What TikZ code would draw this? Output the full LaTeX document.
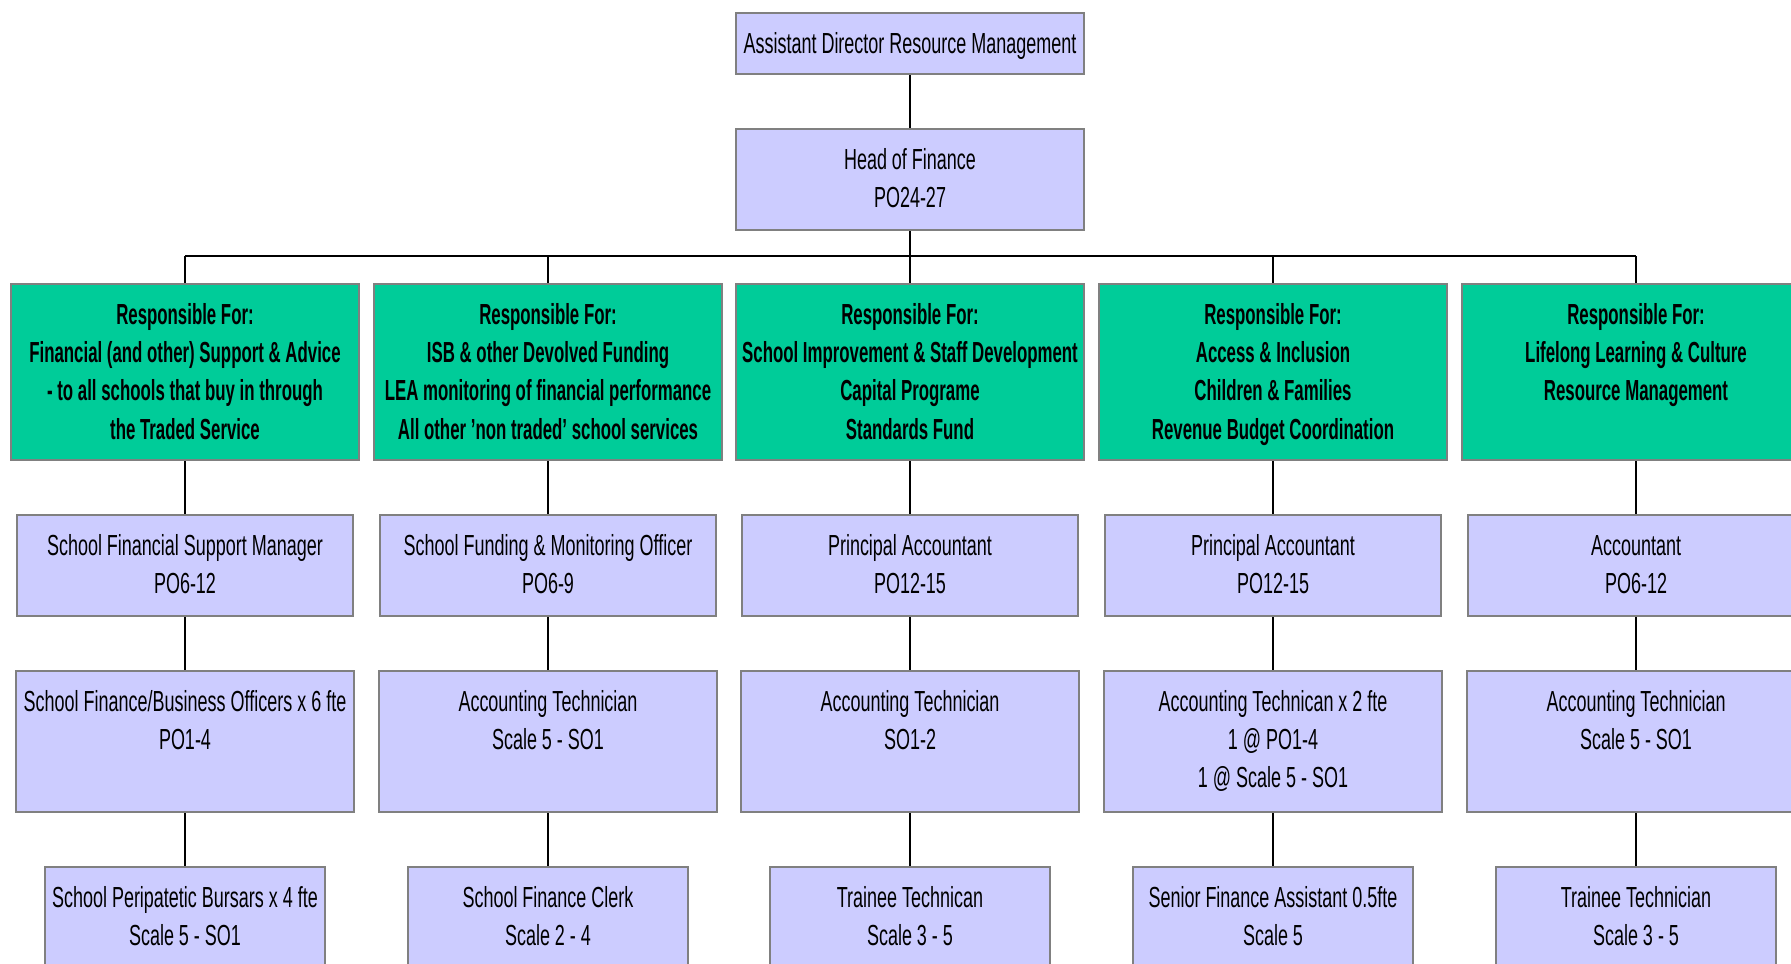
\documentclass[tikz,border=0pt]{standalone}
\usepackage{fontspec}
\setmainfont{Liberation Sans}[FakeStretch=0.62, BoldFeatures={FakeStretch=0.58}]
\usepackage{tikz}
\usetikzlibrary{positioning,calc}
\definecolor{rmlav}{HTML}{CCCCFF}
\definecolor{rmgreen}{HTML}{00CC99}
\definecolor{rmgray}{HTML}{808080}
% text cell: width, height, lines (top aligned)
\newcommand{\rmcell}[3]{%
  \begin{minipage}[c][#2][t]{#1}\centering\rule{0pt}{0.40cm}#3\end{minipage}}
\tikzset{
  rm/box/.style={
    draw=rmgray, fill=rmlav, line width=0.6pt, inner sep=0pt, anchor=north,
    font=\fontsize{8.25pt}{10.9pt}\selectfont
  },
  rm/resp/.style={
    draw=rmgray, fill=rmgreen, line width=0.6pt, inner sep=0pt, anchor=north,
    font=\fontsize{8.25pt}{10.9pt}\selectfont\bfseries
  },
  rm/link/.style={draw=black, line width=0.5pt}
}
\begin{document}
\begin{tikzpicture}[x=0.01cm, y=-0.01cm]
  \useasboundingbox (0,0) rectangle (1791,964);
  \clip (0,0) rectangle (1791,964);

  % --- top of the tree ---
  \node[rm/box] (adrm) at (910,12) {\rmcell{3.47cm}{0.61cm}{Assistant Director Resource Management}};
  \node[rm/box] (hof) at (910,128) {\rmcell{3.47cm}{1.01cm}{Head of Finance\\PO24-27}};
  \coordinate (bus) at (910,256);

  % --- responsibilities ---
  \node[rm/resp] (resp1) at (185,283) {\rmcell{3.48cm}{1.76cm}{Responsible For:\\Financial (and other) Support \& Advice\\- to all schools that buy in through\\the Traded Service}};
  \node[rm/resp] (resp2) at (548,283) {\rmcell{3.48cm}{1.76cm}{Responsible For:\\ISB \& other Devolved Funding\\LEA monitoring of financial performance\\All other 'non traded' school services}};
  \node[rm/resp] (resp3) at (910,283) {\rmcell{3.48cm}{1.76cm}{Responsible For:\\School Improvement \& Staff Development\\Capital Programe\\Standards Fund}};
  \node[rm/resp] (resp4) at (1273,283) {\rmcell{3.48cm}{1.76cm}{Responsible For:\\Access \& Inclusion\\Children \& Families\\Revenue Budget Coordination}};
  \node[rm/resp] (resp5) at (1636,283) {\rmcell{3.48cm}{1.76cm}{Responsible For:\\Lifelong Learning \& Culture\\Resource Management}};

  % --- first posts ---
  \node[rm/box] (lead1) at (185,514) {\rmcell{3.36cm}{1.01cm}{School Financial Support Manager\\PO6-12}};
  \node[rm/box] (lead2) at (548,514) {\rmcell{3.36cm}{1.01cm}{School Funding \& Monitoring Officer\\PO6-9}};
  \node[rm/box] (lead3) at (910,514) {\rmcell{3.36cm}{1.01cm}{Principal Accountant\\PO12-15}};
  \node[rm/box] (lead4) at (1273,514) {\rmcell{3.36cm}{1.01cm}{Principal Accountant\\PO12-15}};
  \node[rm/box] (lead5) at (1636,514) {\rmcell{3.36cm}{1.01cm}{Accountant\\PO6-12}};

  % --- technicians ---
  \node[rm/box] (tech1) at (185,670) {\rmcell{3.37cm}{1.41cm}{School Finance/Business Officers x 6 fte\\PO1-4}};
  \node[rm/box] (tech2) at (548,670) {\rmcell{3.37cm}{1.41cm}{Accounting Technician\\Scale 5 - SO1}};
  \node[rm/box] (tech3) at (910,670) {\rmcell{3.37cm}{1.41cm}{Accounting Technician\\SO1-2}};
  \node[rm/box] (tech4) at (1273,670) {\rmcell{3.37cm}{1.41cm}{Accounting Technican x 2 fte\\1 @ PO1-4\\1 @ Scale 5 - SO1}};
  \node[rm/box] (tech5) at (1636,670) {\rmcell{3.37cm}{1.41cm}{Accounting Technician\\Scale 5 - SO1}};

  % --- bottom row ---
  \node[rm/box] (base1) at (185,866) {\rmcell{2.79cm}{1.01cm}{School Peripatetic Bursars x 4 fte\\Scale 5 - SO1}};
  \node[rm/box] (base2) at (548,866) {\rmcell{2.79cm}{1.01cm}{School Finance Clerk\\Scale 2 - 4}};
  \node[rm/box] (base3) at (910,866) {\rmcell{2.79cm}{1.01cm}{Trainee Technican\\Scale 3 - 5}};
  \node[rm/box] (base4) at (1273,866) {\rmcell{2.79cm}{1.01cm}{Senior Finance Assistant 0.5fte\\Scale 5}};
  \node[rm/box] (base5) at (1636,866) {\rmcell{2.79cm}{1.01cm}{Trainee Technician\\Scale 3 - 5}};

  % --- connectors ---
  \draw[rm/link] (adrm.south) -- (hof.north);
  \draw[rm/link] (hof.south) -- (bus);
  \draw[rm/link] (resp1.north |- bus) -- (resp5.north |- bus);
  \foreach \i in {1,...,5} {
    \draw[rm/link] (resp\i.north) -- (resp\i.north |- bus);
    \draw[rm/link] (resp\i.south) -- (lead\i.north);
    \draw[rm/link] (lead\i.south) -- (tech\i.north);
    \draw[rm/link] (tech\i.south) -- (base\i.north);
  }
\end{tikzpicture}
\end{document}
